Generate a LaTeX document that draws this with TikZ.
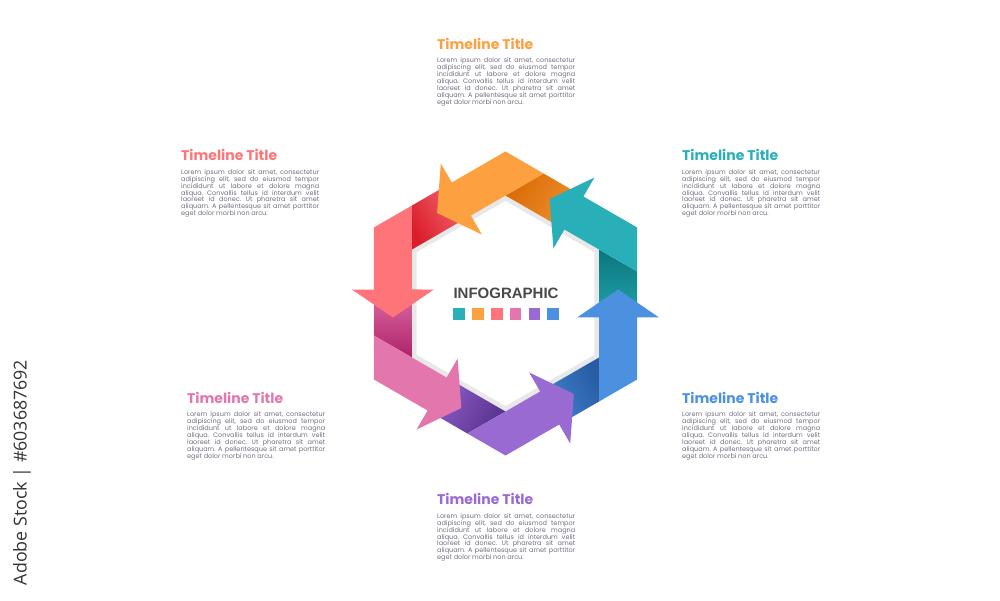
\documentclass[tikz,border=0pt]{standalone}
\usepackage{fontspec}
\newfontfamily\poppins{Poppins}
\newfontfamily\headfont{Liberation Sans}
\newfontfamily\stockfont{Open Sans}

\definecolor{arOrange}{HTML}{FDA03F}
\definecolor{arOrangeDk}{HTML}{D96C06}
\definecolor{arOrangeLt}{HTML}{EE8E2C}
\definecolor{arCoral}{HTML}{FF7478}
\definecolor{arCoralDk}{HTML}{DA1C2B}
\definecolor{arCoralLt}{HTML}{F3646D}
\definecolor{arPink}{HTML}{E377AD}
\definecolor{arPinkDk}{HTML}{AE226A}
\definecolor{arPinkLt}{HTML}{D8649E}
\definecolor{arPurple}{HTML}{9A6AD3}
\definecolor{arPurpleDk}{HTML}{58328C}
\definecolor{arPurpleLt}{HTML}{8A5BC5}
\definecolor{arBlue}{HTML}{4C91E0}
\definecolor{arBlueDk}{HTML}{285CA2}
\definecolor{arBlueLt}{HTML}{3F7ECC}
\definecolor{arTeal}{HTML}{28AFB8}
\definecolor{arTealDk}{HTML}{0B767C}
\definecolor{arTealLt}{HTML}{1F9EA6}
\definecolor{bodygray}{HTML}{707080}
\definecolor{infogray}{HTML}{484848}
\definecolor{stockgray}{HTML}{333333}
\definecolor{hexshadow}{HTML}{E8E8E8}

\newlength{\loremwd}
\setlength{\loremwd}{138pt}
\newcommand{\loremtext}{%
  \makebox[\loremwd][s]{Lorem ipsum dolor sit amet, consectetur}\\
  \makebox[\loremwd][s]{adipiscing elit, sed do eiusmod tempor}\\
  \makebox[\loremwd][s]{incididunt ut labore et dolore magna}\\
  \makebox[\loremwd][s]{aliqua. Convallis tellus id interdum velit}\\
  \makebox[\loremwd][s]{laoreet id donec. Ut pharetra sit amet}\\
  \makebox[\loremwd][s]{aliquam. A pellentesque sit amet porttitor}\\
  eget dolor morbi non arcu.}

\tikzset{
  tltitle/.style={font=\poppins\bfseries\fontsize{14}{16}\selectfont, anchor=base west, inner sep=0pt},
  tlbody/.style={font=\poppins\frenchspacing\fontsize{6.5}{6.9}\selectfont, text=bodygray, align=left, anchor=north west, inner sep=0pt},
}

\begin{document}
\begin{tikzpicture}[x=1pt,y=1pt]
        \useasboundingbox (0,0) rectangle (1000,600);
        \fill[white] (0,0) rectangle (1000,600);
        % hexagon of arrows
        \begin{scope}[shift={(505.5,296.5)}]
            \fill[hexshadow] (90:108) -- (150:108) -- (210:108) -- (270:108) -- (330:108) -- (30:108) -- cycle;
            \fill[white] (90:102.5) -- (150:102.5) -- (210:102.5) -- (270:102.5) -- (330:102.5) -- (30:102.5) -- cycle;
            \foreach \a/\dk/\lt in {0/arOrangeDk/arOrangeLt, 60/arCoralDk/arCoralLt, 120/arPinkDk/arPinkLt,
                                    180/arPurpleDk/arPurpleLt, 240/arBlueDk/arBlueLt, 300/arTealDk/arTealLt}{
                \pgfmathsetmacro{\sa}{\a-120}
                \shade[rotate=\a, top color=\lt, bottom color=\dk, shading angle=\sa]
                    (0,108) -- (38.1,130) -- (71.02,111) -- (51.96,78) -- cycle;
            }
            \foreach \a/\c in {0/arOrange, 60/arCoral, 120/arPink, 180/arPurple, 240/arBlue, 300/arTeal}{
                \fill[\c, rotate=\a] (-68.41,90.5) -- (-64.67,140.01) -- (-53.70,121.0) -- (0,152)
                    -- (38.1,130) -- (0,108) -- (-34.64,88.0) -- (-23.67,68.99) -- cycle;
            }
        \end{scope}
        \node (infotitle) [font=\headfont\bfseries\fontsize{15}{18}\selectfont, text=infogray, anchor=base] at (506,301.7) {INFOGRAPHIC};
        \foreach \c [count=\i] in {arTeal,arOrange,arCoral,arPink,arPurple,arBlue}
            \node (sq\i) [fill=\c, minimum size=11.7pt, inner sep=0pt] at ({459.2+18.8*(\i-1)},285.8) {};
        % text blocks
        \node (titleT) [tltitle, text=arOrange] at (437,550.7) {Timeline Title};
        \node (bodyT) [tlbody] at (437,542.2) {\loremtext};
        \node (titleTL) [tltitle, text=arCoral] at (181,439.3) {Timeline Title};
        \node (bodyTL) [tlbody] at (181,430.8) {\loremtext};
        \node (titleTR) [tltitle, text=arTeal] at (682,439.3) {Timeline Title};
        \node (bodyTR) [tlbody] at (682,430.8) {\loremtext};
        \node (titleBL) [tltitle, text=arPink] at (187,196.7) {Timeline Title};
        \node (bodyBL) [tlbody] at (187,188.2) {\loremtext};
        \node (titleBR) [tltitle, text=arBlue] at (682,196.7) {Timeline Title};
        \node (bodyBR) [tlbody] at (682,188.2) {\loremtext};
        \node (titleB) [tltitle, text=arPurple] at (437,95.3) {Timeline Title};
        \node (bodyB) [tlbody] at (437,86.8) {\loremtext};
        \node (stockmark) [rotate=90, font=\stockfont\fontsize{17.8}{20}\selectfont, text=stockgray] at (22,127.5) {Adobe Stock | \#603687692};
\end{tikzpicture}
\end{document}
